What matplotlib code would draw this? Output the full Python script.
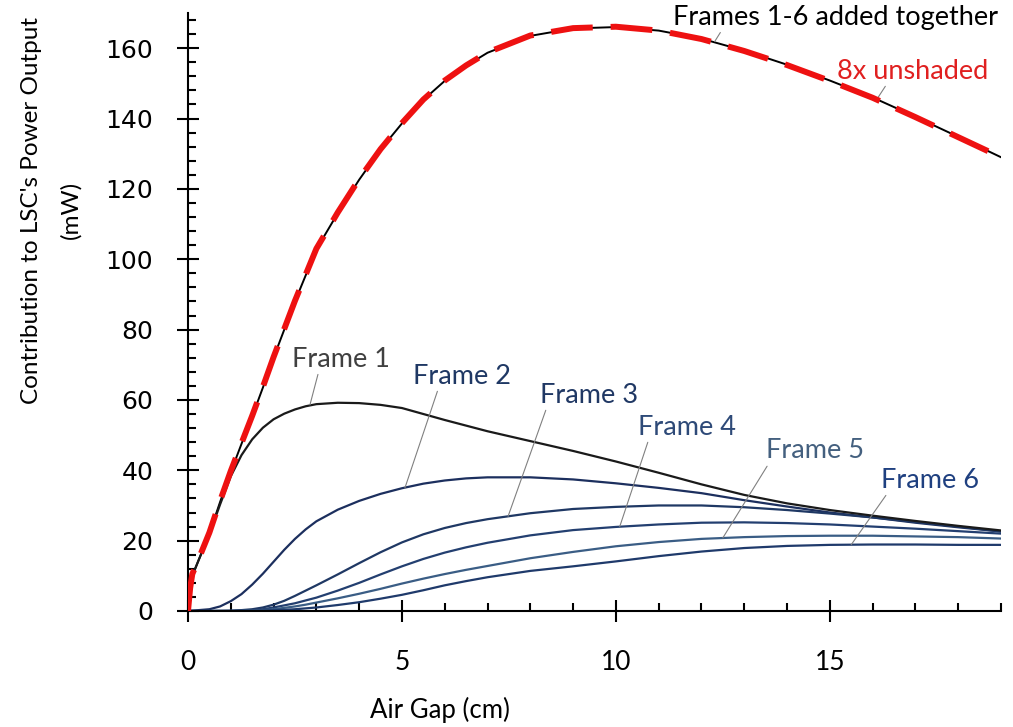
import matplotlib
matplotlib.use('Agg')
import matplotlib.pyplot as plt
from matplotlib.ticker import MultipleLocator

# air gap (cm) for the summed curves (denser near 0)
gap_near = [0, 0.05, 0.1, 0.25, 0.5, 0.75, 1, 1.25, 1.5, 1.75, 2, 2.5, 3, 3.5, 4, 4.5, 5,
            5.5, 6, 6.5, 7, 8, 9, 10, 11, 12, 13, 14, 15, 16, 17, 18, 19]
total = [0, 6, 10, 14.5, 22, 31, 39.5, 47.5, 55.3, 63.5, 72, 88, 102.8, 113.1, 122.6, 131.2, 138.6,
         145.3, 150.7, 155, 158.7, 163.5, 165.6, 166, 165, 162.7, 159.3, 155.3, 150.8, 146, 140.5, 134.8, 129]
unshaded_8x = [0, 6.5, 10.5, 14.8, 22.3, 31.3, 39.8, 47.7, 55.5, 63.7, 72.2, 88.2, 103, 113.3, 122.8, 131.3, 138.7,
               145.4, 150.8, 155.1, 158.8, 163.6, 165.7, 166.1, 165, 162.6, 159.2, 155.2, 150.7, 145.9, 140.4, 134.7, 129]

# frame 1
gap_f1 = [0, 0.05, 0.1, 0.25, 0.5, 0.75, 1, 1.25, 1.5, 1.75, 2, 2.25, 2.5, 2.75, 3,
          3.5, 4, 4.5, 5, 5.5, 6, 6.5, 7, 8, 9, 10, 11, 12, 13, 14, 15, 16, 17, 18, 19]
frame1 = [0, 6, 10, 14.5, 21.8, 30.3, 38.3, 44.3, 48.8, 52.1, 54.5, 56.1, 57.3, 58.2, 58.8,
          59.2, 59.1, 58.6, 57.7, 56.0, 54.3, 52.7, 51.1, 48.3, 45.5, 42.5, 39.3, 36, 33, 30.6, 28.7,
          27.1, 25.6, 24.2, 22.9]

# air gap (cm) for frames 2-6
gap = [0, 0.5, 0.75, 1, 1.25, 1.5, 1.75, 2, 2.25, 2.5, 2.75, 3, 3.5, 4, 4.5, 5, 5.5, 6, 6.5, 7,
       8, 9, 10, 11, 12, 13, 14, 15, 16, 17, 18, 19]
frame2 = [0, 0.5, 1.3, 2.8, 4.8, 7.5, 10.6, 14, 17.4, 20.5, 23.2, 25.5, 28.8, 31.3, 33.3, 34.9, 36.2, 37.1, 37.7, 38,
          38, 37.4, 36.3, 35, 33.5, 31.5, 29.7, 28, 26.6, 25.1, 23.8, 22.6]
frame3 = [0, 0, 0.05, 0.1, 0.25, 0.5, 1, 1.8, 2.9, 4.3, 5.8, 7.3, 10.4, 13.6, 16.7, 19.5, 21.8, 23.6, 25, 26.1,
          27.8, 29, 29.6, 30, 30, 29.5, 28.7, 27.7, 26.6, 25.3, 24, 22.6]
frame4 = [0, 0, 0, 0, 0.1, 0.2, 0.5, 1, 1.6, 2.2, 3, 3.8, 5.8, 8, 10.4, 12.7, 14.8, 16.6, 18.1, 19.4,
          21.5, 23, 23.9, 24.6, 25.1, 25.2, 25, 24.6, 24, 23.4, 22.7, 22]
frame5 = [0, 0, 0, 0, 0.05, 0.1, 0.25, 0.5, 0.9, 1.3, 1.8, 2.4, 3.6, 4.9, 6.3, 7.8, 9.2, 10.5, 11.7, 12.8,
          15, 16.8, 18.4, 19.6, 20.5, 21, 21.3, 21.4, 21.4, 21.2, 21, 20.6]
frame6 = [0, 0, 0, 0, 0, 0, 0.1, 0.2, 0.35, 0.5, 0.75, 1.0, 1.7, 2.5, 3.5, 4.6, 5.9, 7.3, 8.5, 9.6,
          11.4, 12.7, 14.1, 15.6, 16.9, 17.9, 18.5, 18.8, 18.9, 18.9, 18.8, 18.8]

frame_curves = [frame2, frame3, frame4, frame5, frame6]
frame_colors = ['#1c2f5e', '#1f3864', '#233f70', '#3a5d85', '#1f3a6b']

# labels: text, text position, point on curve, colour, leader start (relpos)
labels = ['Frame 1', 'Frame 2', 'Frame 3', 'Frame 4', 'Frame 5', 'Frame 6',
          'Frames 1-6 added together', '8x unshaded']
label_xy = [(3.58, 71.6), (6.40, 66.8), (9.37, 61.4), (11.66, 52.3), (14.65, 45.5), (17.34, 37.2),
            (15.14, 168.8), (16.94, 153.5)]
point_xy = [(2.85, 58.6), (5.07, 35.0), (7.48, 26.9), (10.09, 24), (12.5, 20.8), (15.5, 18.85),
            (12.31, 161.9), (16.1, 145.5)]
label_colors = ['#404040', '#1f3864', '#203864', '#2e4a78', '#44607f', '#1f4080', 'black', '#e02020']
relpos = [(0.27, 0), (0.26, 0), (0.07, 0), (0.11, 0), (0.03, 0), (0.07, 0), (0.15, 0), (0.33, 0)]

fig = plt.figure(figsize=(10.13, 7.27), dpi=100)
ax = fig.add_axes([188 / 1013, 1 - 611 / 727, (1001 - 188) / 1013, (611 - 13) / 727])

ax.plot(gap_near, total, color='black', lw=1.4, zorder=3)
ax.plot(gap_near, unshaded_8x, color='#ee1111', lw=4.3, dashes=(7, 3), zorder=4)
ax.plot(gap_f1, frame1, color='#1a1a1a', lw=1.6, zorder=3)
for ys, c in zip(frame_curves, frame_colors):
    ax.plot(gap, ys, color=c, lw=1.6, zorder=2)

for t, (tx, ty), (px, py), c, rp in zip(labels, label_xy, point_xy, label_colors, relpos):
    ax.annotate(t, xy=(px, py), xytext=(tx, ty), ha='center', va='center',
                fontsize=19.5, family='Lato', color=c, annotation_clip=False,
                arrowprops=dict(arrowstyle='-', color='#808080', lw=0.8,
                                shrinkA=0, shrinkB=0, relpos=rp))

ax.set_xlim(0, 19)
ax.set_ylim(0, 170)
ax.xaxis.set_major_locator(MultipleLocator(5))
ax.xaxis.set_minor_locator(MultipleLocator(1))
ax.yaxis.set_major_locator(MultipleLocator(20))
ax.yaxis.set_minor_locator(MultipleLocator(4))
ax.tick_params(which='major', direction='inout', length=16, width=1.5)
ax.tick_params(axis='y', which='major', pad=17)
ax.tick_params(axis='x', which='major', pad=20)
ax.tick_params(which='minor', direction='in', length=6, width=1.5)
for lab in ax.get_yticklabels():
    lab.set_family('DejaVu Sans')
    lab.set_fontsize(18)
for lab in ax.get_xticklabels():
    lab.set_family('Lato')
    lab.set_fontsize(19)

for s in ['top', 'right']:
    ax.spines[s].set_visible(False)
for s in ['left', 'bottom']:
    ax.spines[s].set_linewidth(1.5)

fig.text(440 / 1013, 1 - 710 / 727, 'Air Gap (cm)', ha='center', va='center',
         fontsize=18.5, family='Lato')
fig.text(51 / 1013, 1 - 210 / 727, "Contribution to LSC's Power Output\n(mW)", ha='center', va='center',
         rotation=90, multialignment='center', fontsize=17.5, family='Lato',
         linespacing=2.0)

fig.savefig('out.png', dpi=100)
